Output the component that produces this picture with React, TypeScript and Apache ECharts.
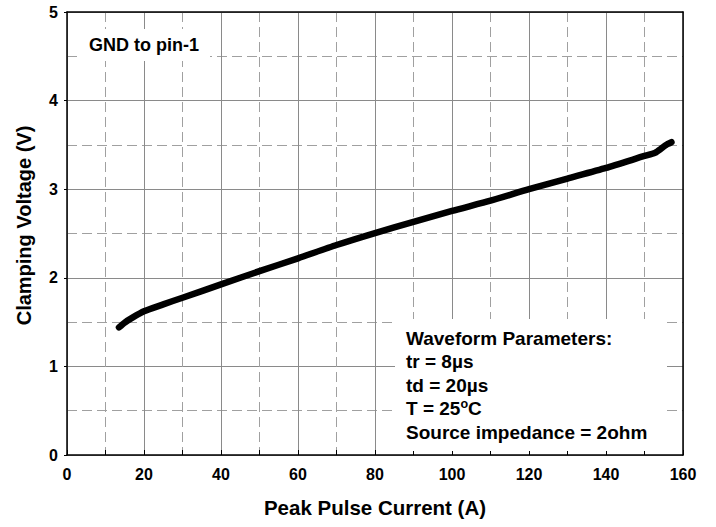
import React, { useEffect, useRef } from "react";
import * as echarts from "echarts";

const current = [13.5, 15, 17, 20, 25, 30, 40, 50, 60, 70, 80, 90, 100, 110, 120, 130, 140, 150, 152.7, 154.4, 155.6, 157];
const voltage = [1.44, 1.495, 1.55, 1.622, 1.70, 1.775, 1.925, 2.075, 2.22, 2.37, 2.505, 2.63, 2.755, 2.87, 3.0, 3.12, 3.24, 3.375, 3.41, 3.46, 3.5, 3.53];

const xTitle = "Peak Pulse Current (A)";
const yTitle = "Clamping Voltage (V)";
const noteTop = "GND to pin-1";
const paramLines = ["Waveform Parameters:", "tr = 8\u00B5s", "td = 20\u00B5s", "T = 25{s|o}C", "Source impedance = 2ohm"];

const FONT = '"Liberation Sans", Arial, sans-serif';

export default function App() {
  const ref = useRef<HTMLDivElement>(null);
  useEffect(() => {
    if (!ref.current) return;
    const chart = echarts.init(ref.current, null, { renderer: "svg" });
    const solid = { show: true, lineStyle: { color: "#8a8a8a", width: 1, type: "solid" as const } };
    const dashed = { show: true, lineStyle: { color: "#a0a0a0", width: 1, type: [10, 5] as any } };
    const txt = (text: string, x: number, y: number, size: number, extra: any = {}) => ({
      type: "text",
      x,
      y,
      z: 10,
      style: {
        text,
        fill: "#000",
        font: `bold ${size}px ${FONT}`,
        fontFamily: FONT,
        fontWeight: "bold",
        fontSize: size,
        verticalAlign: "middle",
        align: "left",
        ...extra,
      },
    });
    chart.setOption({
      animation: false,
      backgroundColor: "#fff",
      textStyle: { fontFamily: FONT },
      grid: { left: 67, top: 12, right: 33, bottom: 72, containLabel: false },
      xAxis: [
        {
          type: "value",
          min: 0,
          max: 160,
          interval: 20,
          name: xTitle,
          nameLocation: "middle",
          nameGap: 42,
          nameTextStyle: { fontSize: 20.5, fontWeight: "bold", color: "#000", fontFamily: FONT },
          axisLine: { show: true, onZero: false, lineStyle: { color: "#000", width: 1.5 } },
          axisTick: { show: true, inside: true, length: 5, lineStyle: { color: "#000" } },
          minorTick: { show: true, splitNumber: 2, length: 5, lineStyle: { color: "#000" } },
          axisLabel: { fontSize: 16, fontWeight: "bold", color: "#000", margin: 11, fontFamily: FONT },
          splitLine: solid,
          minorSplitLine: dashed,
        },
        {
          type: "value",
          position: "top",
          min: 0,
          max: 160,
          interval: 20,
          axisLine: { show: true, onZero: false, lineStyle: { color: "#000", width: 1.5 } },
          axisTick: { show: false },
          axisLabel: { show: false },
          splitLine: { show: false },
        },
      ],
      yAxis: [
        {
          type: "value",
          min: 0,
          max: 5,
          interval: 1,
          name: yTitle,
          nameLocation: "middle",
          nameGap: 33,
          nameTextStyle: { fontSize: 20, fontWeight: "bold", color: "#000", fontFamily: FONT, padding: [0, 0, 0, 16] },
          axisLine: { show: true, onZero: false, lineStyle: { color: "#000", width: 1.5 } },
          axisTick: { show: true, inside: false, length: 3, lineStyle: { color: "#000" } },
          minorTick: { show: false, splitNumber: 2 },
          axisLabel: { fontSize: 16, fontWeight: "bold", color: "#000", margin: 9, fontFamily: FONT },
          splitLine: solid,
          minorSplitLine: dashed,
        },
        {
          type: "value",
          position: "right",
          min: 0,
          max: 5,
          interval: 1,
          axisLine: { show: true, onZero: false, lineStyle: { color: "#000", width: 1.5 } },
          axisTick: { show: false },
          axisLabel: { show: false },
          splitLine: { show: false },
        },
      ],
      graphic: [
        { type: "rect", z: 5, shape: { x: 80, y: 29, width: 130, height: 32 }, style: { fill: "#fff" } },
        { type: "rect", z: 5, shape: { x: 395, y: 319, width: 272, height: 132 }, style: { fill: "#fff" } },
        txt(noteTop, 89, 45, 18),
        ...paramLines.map((l, i) =>
          txt(l, 406, 338 + i * 23.5, 19, {
            rich: {
              s: { fontSize: 12.5, fontWeight: "bold", fontFamily: FONT, fill: "#000", padding: [0, 0, 9, 0] },
            },
          })
        ),
      ],
      series: [
        {
          type: "line",
          data: current.map((c, i) => [c, voltage[i]]),
          showSymbol: false,
          symbol: "none",
          smooth: 0.2,
          z: 3,
          lineStyle: { color: "#000", width: 6.5, cap: "round", join: "round" },
        },
      ],
    });
    return () => chart.dispose();
  }, []);
  return <div ref={ref} style={{ position: "absolute", left: 0, top: 0, width: 716, height: 527 }} />;
}
